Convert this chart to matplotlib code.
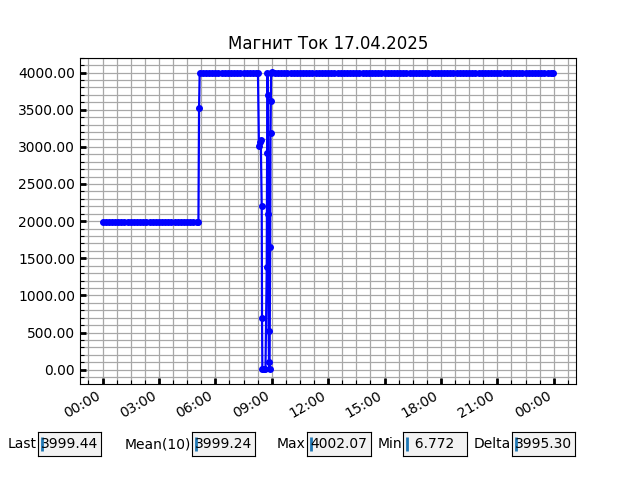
import numpy as np
import pandas as pd
import matplotlib
matplotlib.use("Agg")
import matplotlib.pyplot as plt
import matplotlib.dates as mdates
from matplotlib.ticker import AutoMinorLocator, FormatStrFormatter

# Datos (minutos desde 00:00 del 17.04.2025)
FECHA = "2025-04-17"
TITULO = "Магнит Ток 17.04.2025"

minutos_noche = [0, 10, 20, 30, 40, 50, 60, 70, 80, 90, 100, 110, 120, 130,
                 140, 150, 160, 170, 180, 190, 200, 210, 220, 230, 240, 250,
                 260, 270, 280, 290, 300, 306]
valores_noche = [1985, 1985, 1985, 1985, 1985, 1985, 1985, 1985, 1985, 1985,
                 1985, 1985, 1985, 1985, 1985, 1985, 1985, 1985, 1985, 1985,
                 1985, 1985, 1985, 1985, 1985, 1985, 1985, 1985, 1985, 1985,
                 1985, 1985]

minutos_manana = [308, 310, 320, 330, 340, 350, 360, 370, 380, 390, 400, 410,
                  420, 430, 440, 450, 460, 470, 480, 490, 496]
valores_manana = [3517, 3999, 4000, 3999, 4000, 4001, 4000, 3999, 4000, 4000,
                  3999, 4000, 4001, 4000, 3999, 4000, 4000, 3999, 4000, 4001,
                  4000]

# Caida y oscilacion entre 08:19 y 09:00
minutos_caida = [499, 502, 505, 508, 509, 510, 515, 520, 524, 525, 526, 528,
                 529, 530, 531, 533, 535, 536, 537, 538, 540]
valores_caida = [3010, 3060, 3090, 2200, 690, 12, 7, 9, 1380, 2920, 4000,
                 3700, 2100, 520, 100, 6.772, 1650, 3180, 3620, 4000, 4002.07]

minutos_tarde = [550, 560, 570, 580, 590, 600, 610, 620, 630, 640, 650, 660,
                 670, 680, 690, 700, 710, 720, 730, 740, 750, 760, 770, 780,
                 790, 800, 810, 820, 830, 840, 850, 860, 870, 880, 890, 900,
                 910, 920, 930, 940, 950, 960, 970, 980, 990, 1000, 1010,
                 1020, 1030, 1040, 1050, 1060, 1070, 1080, 1090, 1100, 1110,
                 1120, 1130, 1140, 1150, 1160, 1170, 1180, 1190, 1200, 1210,
                 1220, 1230, 1240, 1250, 1260, 1270, 1280, 1290, 1300, 1310,
                 1320, 1330, 1340, 1350, 1360, 1370, 1380, 1390, 1400, 1410,
                 1420, 1430, 1439]
valores_tarde = [4000, 3999, 4000, 4001, 4000, 3999, 4000, 4000, 3999, 4000,
                 4001, 4000, 3999, 4000, 4000, 3999, 4000, 4001, 4000, 3999,
                 4000, 4000, 3999, 4000, 4001, 4000, 3999, 4000, 4000, 3999,
                 4000, 4001, 4000, 3999, 4000, 4000, 3999, 4000, 4001, 4000,
                 3999, 4000, 4000, 3999, 4000, 4001, 4000, 3999, 4000, 4000,
                 3999, 4000, 4001, 4000, 3999, 4000, 4000, 3999, 4000, 4001,
                 4000, 3999, 4000, 4000, 3999, 4000, 4001, 4000, 3999, 4000,
                 4000, 3999, 4000, 4001, 4000, 3999, 4000, 4000, 3999, 4000,
                 4001, 4000, 3999, 4000, 4000, 3999, 4000, 4000, 3999, 3999.44]

# Valores de los cuadros inferiores
etiquetas_stats = ["Last", "Mean(10)", "Max", "Min", "Delta"]
textos_stats = ["3999.44", "3999.24", "4002.07", "  6.772", "3995.30"]

minutos = minutos_noche + minutos_manana + minutos_caida + minutos_tarde
valores = valores_noche + valores_manana + valores_caida + valores_tarde
tiempos = pd.to_datetime(FECHA) + pd.to_timedelta(minutos, unit="m")

fig, ax = plt.subplots(figsize=(6.4, 4.8), dpi=100)
ax.plot(tiempos, valores, color="blue", marker="o", markersize=4,
        linewidth=1.6)

ax.set_title(TITULO)
ax.xaxis.set_major_locator(mdates.HourLocator(byhour=range(0, 24, 3)))
ax.xaxis.set_major_formatter(mdates.DateFormatter("%H:%M"))
ax.xaxis.set_minor_locator(AutoMinorLocator(4))
ax.yaxis.set_major_formatter(FormatStrFormatter("%.2f"))
ax.yaxis.set_minor_locator(AutoMinorLocator(5))

ax.grid(True, which="both", color="#a8a8a8", linewidth=0.9)
ax.set_axisbelow(True)
ax.tick_params(which="major", direction="in", length=4, width=2)
ax.tick_params(which="minor", direction="in", length=3, width=0.8)
fig.autofmt_xdate()

# Cuadros de estadisticas (imitan TextBox)
posiciones = [0.059, 0.300, 0.480, 0.630, 0.800]
for etiqueta, texto, x0 in zip(etiquetas_stats, textos_stats, posiciones):
    caja = fig.add_axes([x0, 0.05, 0.099, 0.05])
    caja.set_facecolor("#f2f2f2")
    caja.set_xticks([])
    caja.set_yticks([])
    caja.set_xlim(0, 1)
    caja.set_ylim(0, 1)
    caja.text(-0.02, 0.5, etiqueta, ha="right", va="center",
              transform=caja.transAxes, fontsize=10)
    caja.text(0.05, 0.5, texto, ha="left", va="center",
              transform=caja.transAxes, fontsize=10)
    caja.vlines(0.06, 0.2, 0.8, color="C0", linewidth=2)

plt.savefig("out.png", dpi=100)
plt.close()
